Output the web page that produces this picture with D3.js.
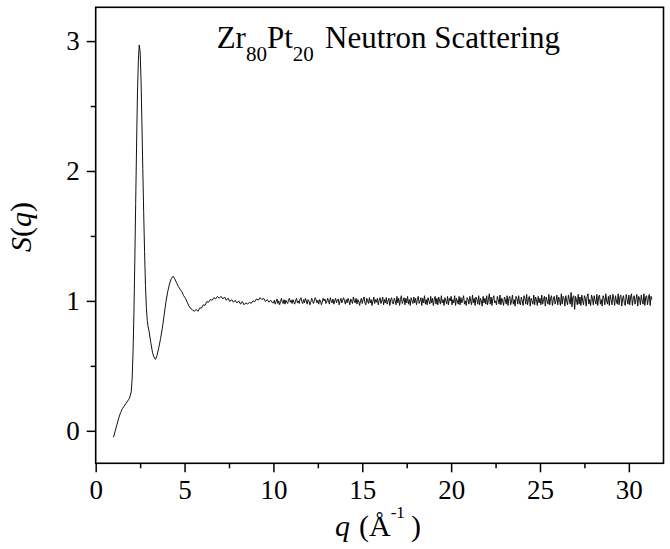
<!DOCTYPE html>
<html>
<head>
<meta charset="utf-8">
<script src="https://cdn.jsdelivr.net/npm/d3@7"></script>
<style>
  body { margin: 0; background: #fff; }
</style>
</head>
<body>
<script>
// low-q part of S(q) (q in 1/A, S dimensionless)
var lowQ = [1.00,1.10,1.20,1.30,1.40,1.50,1.60,1.70,1.80,1.90,2.00,2.05,2.10,2.15,2.20,2.25,2.30,2.35,2.40,2.45,
            2.50,2.55,2.60,2.65,2.70,2.75,2.80,2.85,2.90,2.95,3.00,3.10,3.20,3.30,3.37,3.45,3.55,3.65,3.75,3.85,
            3.95,4.05,4.15,4.25,4.35,4.45,4.55,4.65,4.75,4.85,4.95,5.05,5.15,5.25,5.35,5.45,5.55,5.65,5.75,5.85,
            5.95,6.05,6.15,6.25,6.35,6.45,6.55,6.65,6.75,6.85,6.95,7.05,7.15,7.25,7.35,7.45,7.55,7.65,7.75,7.85,
            7.95,8.05,8.15,8.25,8.35,8.45,8.55,8.65,8.75,8.85,8.95,9.05,9.15,9.25,9.35,9.45,9.55,9.65,9.75,9.85,9.95];
var lowS = [-0.05,0.00,0.05,0.10,0.14,0.17,0.19,0.21,0.23,0.25,0.30,0.40,0.60,0.90,1.30,1.75,2.20,2.60,2.85,2.97,
            2.92,2.70,2.38,2.02,1.68,1.38,1.12,0.95,0.85,0.80,0.77,0.68,0.60,0.56,0.55,0.58,0.64,0.71,0.79,0.89,
            0.99,1.07,1.13,1.17,1.19,1.17,1.14,1.11,1.09,1.07,1.04,1.02,0.99,0.96,0.94,0.93,0.92,0.935,0.92,0.945,
            0.945,0.97,0.965,0.995,0.99,1.01,1.005,1.025,1.015,1.035,1.02,1.035,1.015,1.03,1.005,1.02,0.995,1.01,0.99,1.005,
            0.985,1.00,0.975,0.995,0.97,0.985,0.975,0.99,0.98,1.00,0.995,1.015,1.005,1.025,1.01,1.02,0.995,1.01,0.99,1.005,0.985];

// high-q part: measured on a regular grid from q = 10 with step 0.05
var highQStart = 10.0;
var highQStep = 0.05;
var highS = [
  0.985,1.005,0.975,0.995,1.015,0.98,1.00,0.97,0.995,1.02,0.99,0.98,1.01,0.975,1.005,0.99,0.98,1.005,1.02,0.99,
  1.005,0.98,1.01,0.99,0.975,1.005,1.02,0.985,1.00,0.98,1.015,1.025,0.995,0.98,1.01,0.985,1.02,1.00,0.975,1.01,
  1.00,0.97,0.99,1.02,1.005,0.98,1.00,1.025,1.01,0.985,1.005,0.975,1.01,1.00,0.97,0.99,1.02,1.00,1.015,0.98,
  0.99,1.02,1.00,0.975,1.025,1.00,0.985,1.015,0.975,1.00,1.02,0.985,1.005,1.015,0.97,1.00,1.02,0.985,1.005,1.025,
  1.00,0.975,1.01,0.985,1.02,1.00,0.97,1.015,1.00,0.98,1.03,1.00,0.985,1.02,0.975,1.01,1.00,0.965,1.00,1.02,
  0.98,1.01,1.03,0.985,0.97,1.02,1.00,0.98,1.025,0.985,1.01,0.965,1.00,1.03,0.98,1.01,0.99,1.02,0.97,1.005,
  1.025,0.98,1.00,1.03,0.97,1.01,0.985,1.025,0.975,1.00,1.02,0.965,1.01,1.025,0.985,0.975,1.02,1.00,0.97,1.035,
  0.985,1.02,0.965,1.01,1.04,0.98,1.00,1.025,0.97,1.02,0.985,1.035,0.975,1.01,0.965,1.025,1.00,0.98,1.03,0.985,
  1.02,0.97,1.01,1.035,0.98,1.00,1.025,0.965,1.02,0.985,1.04,0.975,1.01,0.97,1.025,1.00,0.975,1.035,0.985,1.02,
  0.965,1.01,1.035,0.975,1.02,0.97,1.03,1.00,0.975,1.04,0.985,1.01,0.965,1.025,1.00,0.975,1.035,0.97,1.02,1.00,
  1.035,0.97,1.01,0.985,1.04,0.965,1.02,1.00,0.975,1.035,0.97,1.025,0.985,1.01,1.04,0.975,1.00,0.965,1.025,1.01,
  0.975,1.035,1.00,0.97,1.045,0.985,1.02,0.965,1.03,1.01,0.975,1.04,0.97,1.02,1.00,0.96,1.035,0.985,1.02,0.975,
  1.04,0.97,1.01,1.055,0.975,1.03,0.965,1.02,1.04,0.985,1.00,0.97,1.035,1.01,0.975,1.045,0.97,1.02,1.00,0.965,
  1.03,1.01,0.975,1.04,0.965,1.02,1.035,0.97,1.00,1.045,0.975,1.01,0.96,1.035,1.02,0.975,1.04,0.985,0.97,1.03,
  1.00,0.965,1.04,1.02,0.975,1.05,0.97,1.01,1.035,0.96,1.02,1.00,0.975,1.045,0.97,1.03,1.01,0.965,1.035,0.985,
  1.02,0.97,1.045,0.975,1.01,1.035,0.96,1.03,1.00,0.975,1.05,0.97,1.02,1.04,0.965,1.01,1.035,0.975,1.00,1.045,
  0.97,1.03,1.01,0.965,1.055,0.975,1.035,1.02,0.96,1.04,1.00,0.97,1.045,1.01,0.975,1.065,0.955,1.03,1.04,0.935,
  1.035,1.01,0.97,1.05,0.975,1.03,0.965,1.045,1.00,0.97,1.04,1.02,0.96,1.035,1.055,0.975,1.01,0.965,1.045,1.02,
  0.97,1.04,1.00,0.975,1.05,0.965,1.03,1.045,0.975,1.01,0.96,1.04,1.02,0.97,1.055,1.00,0.975,1.035,0.965,1.045,
  1.01,0.97,1.05,1.02,0.965,1.04,1.00,0.975,1.055,0.97,1.03,1.045,0.96,1.02,1.04,0.98,0.965,1.05,1.01,0.975,
  1.045,0.97,1.03,1.055,0.965,1.02,1.04,0.975,1.01,1.05,0.96,1.035,1.02,0.97,1.045,1.00,0.975,1.055,0.965,1.03,
  1.04,0.97,1.02,1.05,0.965,1.035,1.01];

var xTicks = [0, 5, 10, 15, 20, 25, 30];
var xMinor = [2.5, 7.5, 12.5, 17.5, 22.5, 27.5];
var yTicks = [0, 1, 2, 3];
var yMinor = [0.5, 1.5, 2.5];

var serif = "'Liberation Serif', Tinos, 'Times New Roman', Times, 'Nimbus Roman', 'DejaVu Serif', serif";

// combine into one point list
var data = [];
lowQ.forEach(function(q, i) { data.push({q: q, s: lowS[i]}); });
highS.forEach(function(s, i) { data.push({q: highQStart + i * highQStep, s: s}); });

var width = 670, height = 549;
var margin = {top: 7.3, right: 6.5, bottom: 85.7, left: 95.7};

var svg = d3.select("body").append("svg")
    .attr("width", width)
    .attr("height", height)
    .style("font-family", serif);

var x = d3.scaleLinear()
    .domain([0, 31.95])
    .range([margin.left, width - margin.right]);

var y = d3.scaleLinear()
    .domain([-0.25, 3.26])
    .range([height - margin.bottom, margin.top]);

// minor ticks first, majors with labels over them
svg.append("g")
    .attr("transform", "translate(0," + (height - margin.bottom) + ")")
    .call(d3.axisBottom(x).tickValues(xMinor).tickSize(5).tickFormat(""))
    .call(function(g) { g.select(".domain").remove(); });

svg.append("g")
    .attr("transform", "translate(0," + (height - margin.bottom) + ")")
    .call(d3.axisBottom(x).tickValues(xTicks).tickSize(9).tickPadding(8).tickFormat(d3.format("d")))
    .call(function(g) { g.select(".domain").remove(); })
    .selectAll("text")
    .attr("font-size", 27)
    .attr("fill", "#000")
    .attr("font-family", serif);

svg.append("g")
    .attr("transform", "translate(" + margin.left + ",0)")
    .call(d3.axisLeft(y).tickValues(yMinor).tickSize(5).tickFormat(""))
    .call(function(g) { g.select(".domain").remove(); });

svg.append("g")
    .attr("transform", "translate(" + margin.left + ",0)")
    .call(d3.axisLeft(y).tickValues(yTicks).tickSize(9).tickPadding(7).tickFormat(d3.format("d")))
    .call(function(g) { g.select(".domain").remove(); })
    .selectAll("text")
    .attr("font-size", 27)
    .attr("fill", "#000")
    .attr("font-family", serif);

svg.selectAll(".tick line").attr("stroke", "#000").attr("stroke-width", 1.5);

// plot frame
svg.append("rect")
    .attr("x", margin.left)
    .attr("y", margin.top)
    .attr("width", width - margin.left - margin.right)
    .attr("height", height - margin.top - margin.bottom)
    .attr("fill", "none")
    .attr("stroke", "#000")
    .attr("stroke-width", 1.6);

// S(q) curve
var line = d3.line()
    .x(function(d) { return x(d.q); })
    .y(function(d) { return y(d.s); });

svg.append("path")
    .datum(data)
    .attr("fill", "none")
    .attr("stroke", "#111")
    .attr("stroke-width", 1)
    .attr("d", line);

// title with subscripts
var title = svg.append("text")
    .attr("x", 216.7)
    .attr("y", 48.3)
    .attr("font-family", serif)
    .attr("font-size", 31);
title.append("tspan").text("Zr");
title.append("tspan").attr("font-size", 21).attr("dy", 13).text("80");
title.append("tspan").attr("dy", -13).text("Pt");
title.append("tspan").attr("font-size", 21).attr("dy", 13).text("20");
title.append("tspan").attr("dy", -13).attr("x", 325).text("Neutron Scattering");

// x axis label
var xl = svg.append("text")
    .attr("y", 536)
    .attr("font-family", serif)
    .attr("font-size", 30);
xl.append("tspan").attr("x", 335).attr("font-style", "italic").text("q");
xl.append("tspan").attr("x", 359).text("(Å");
xl.append("tspan").attr("font-size", 17).attr("dy", -18).text("-1");
xl.append("tspan").attr("dy", 18).attr("x", 411).text(")");

// y axis label
var yl = svg.append("text")
    .attr("transform", "translate(31,227) rotate(-90)")
    .attr("text-anchor", "middle")
    .attr("font-family", serif)
    .attr("font-size", 30);
yl.append("tspan").attr("font-style", "italic").text("S");
yl.append("tspan").text("(");
yl.append("tspan").attr("font-style", "italic").text("q");
yl.append("tspan").text(")");
</script>
</body>
</html>
